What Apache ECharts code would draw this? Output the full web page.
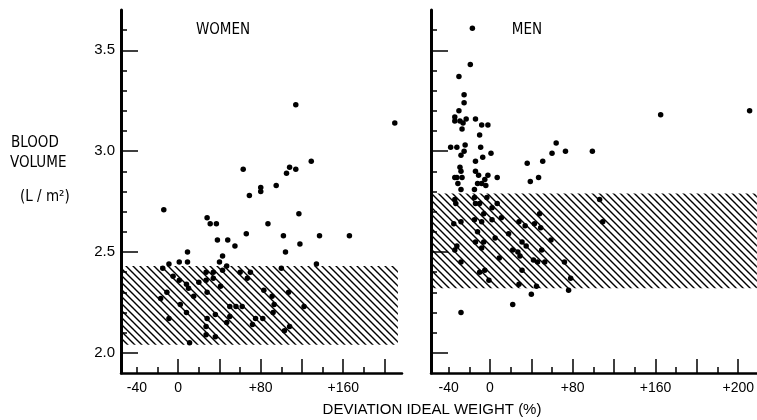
<!DOCTYPE html>
<html>
<head>
<meta charset="utf-8">
<title>Blood volume vs deviation from ideal weight</title>
<script src="https://cdn.jsdelivr.net/npm/echarts@6/dist/echarts.min.js"></script>
<style>
  html, body { margin: 0; padding: 0; background: #fff; }
  #chart { width: 757px; height: 420px; }
</style>
</head>
<body>
<div id="chart"></div>
<script>
// deviation from ideal weight (%), blood volume (L/m2)
var womenPoints = [
  [-14, 2.71], [69, 2.78], [80, 2.80], [28, 2.67], [31, 2.64], [37, 2.64], [87, 2.64],
  [38, 2.56], [48, 2.56], [66, 2.59], [55, 2.53], [9, 2.50], [43, 2.48], [40, 2.45],
  [-9, 2.44], [1, 2.45], [9, 2.45], [-15, 2.42], [47, 2.43], [43, 2.41], [27, 2.40],
  [34, 2.40], [-5, 2.38], [1, 2.36], [27, 2.36], [34, 2.37], [60, 2.40], [70, 2.40],
  [67, 2.37], [8, 2.34], [20, 2.35], [10, 2.32], [41, 2.33], [-11, 2.30], [-17, 2.27],
  [15, 2.28], [28, 2.30], [83, 2.31], [2, 2.24], [50, 2.23], [56, 2.23], [62, 2.23],
  [8, 2.20], [36, 2.19], [50, 2.18], [-9, 2.17], [28, 2.17], [75, 2.17], [82, 2.17],
  [47, 2.15], [72, 2.14], [27, 2.13], [27, 2.09], [36, 2.08], [11, 2.05],
  [114, 3.23], [210, 3.14], [63, 2.91], [80, 2.82], [95, 2.83], [105, 2.89], [108, 2.92],
  [114, 2.91], [129, 2.95], [117, 2.69], [102, 2.58], [137, 2.58], [166, 2.58], [118, 2.54],
  [104, 2.50], [100, 2.42], [134, 2.44], [91, 2.28], [107, 2.30], [93, 2.24], [122, 2.23],
  [92, 2.20], [108, 2.13], [103, 2.11]
];
var menPoints = [
  [-17, 3.61], [-19, 3.43], [-30, 3.37], [-25, 3.28], [-25, 3.24], [-30, 3.20], [-34, 3.17],
  [-34, 3.15], [-29, 3.15], [-26, 3.14], [-23, 3.16], [-27, 3.11], [-14, 3.16], [-8, 3.13],
  [-2, 3.13], [-10, 3.08], [-38, 3.02], [-32, 3.02], [-24, 3.03], [-25, 3.00], [-28, 2.98],
  [-9, 3.02], [1, 2.99], [-7, 2.97], [-14, 2.95], [-29, 2.92], [-28, 2.90], [-34, 2.87],
  [-32, 2.87], [-27, 2.87], [-31, 2.84], [-14, 2.90], [-11, 2.88], [-2, 2.88], [-5, 2.86],
  [7, 2.87], [-12, 2.84], [-8, 2.84], [-4, 2.83], [-15, 2.81], [-28, 2.81],
  [36, 2.94], [39, 2.85], [47, 2.87], [51, 2.95], [60, 2.99], [64, 3.04], [73, 3.00],
  [99, 3.00], [165, 3.18], [251, 3.20],
  [-34, 2.76], [-33, 2.74], [-15, 2.77], [-14, 2.74], [-10, 2.74], [-3, 2.77], [-6, 2.69],
  [2, 2.72], [7, 2.74], [11, 2.67], [-15, 2.66], [-28, 2.65], [-35, 2.64], [-8, 2.65],
  [2, 2.66], [-12, 2.60], [-14, 2.55], [-8, 2.52], [-6, 2.55], [5, 2.57], [18, 2.59],
  [28, 2.65], [34, 2.63], [43, 2.64], [48, 2.69], [49, 2.62], [59, 2.56], [31, 2.55],
  [35, 2.53], [22, 2.51], [27, 2.50], [50, 2.51], [-34, 2.51], [-32, 2.53], [9, 2.47],
  [-28, 2.45], [29, 2.48], [42, 2.46], [46, 2.45], [53, 2.45], [72, 2.45], [31, 2.41],
  [-10, 2.40], [-5, 2.41], [-1, 2.36], [28, 2.34], [45, 2.33], [78, 2.37], [40, 2.29],
  [76, 2.31], [22, 2.24], [-28, 2.20], [106, 2.76], [109, 2.65]
];
// shaded normal ranges [low, high]
var womenBand = [2.04, 2.43];
var menBand = [2.32, 2.79];

var womenTickValues = [-40, 0, 80, 160];
var womenTickLabels = ['-40', '0', '+80', '+160'];
var menTickValues = [-40, 0, 80, 160, 240];
var menTickLabels = ['-40', '0', '+80', '+160', '+200'];
var xMajorTicks = [0, 40, 80, 120, 160, 200, 240];
var xMinorTicks = [-40, -20, 20, 60, 100, 140, 180, 220];
var yMajorTicks = [2.0, 2.5, 3.0, 3.5];
var yMinorTicks = [2.1, 2.2, 2.3, 2.4, 2.6, 2.7, 2.8, 2.9, 3.1, 3.2, 3.3, 3.4, 3.6];

var font = "'Liberation Sans', Arial, sans-serif";
var narrow = "'Liberation Sans Narrow', 'DejaVu Sans Condensed', 'Liberation Sans', sans-serif";

// diagonal hatch for the normal range
function hatch() {
  var s = 7;
  var c = document.createElement('canvas');
  c.width = s; c.height = s;
  var g = c.getContext('2d');
  g.strokeStyle = '#000';
  g.lineWidth = 1.4;
  g.beginPath();
  g.moveTo(-1, -1); g.lineTo(s + 1, s + 1);
  g.moveTo(s - 1, -1); g.lineTo(s + 1, 1);
  g.moveTo(-1, s - 1); g.lineTo(1, s + 1);
  g.stroke();
  return c;
}
var hatchFill = { image: hatch(), repeat: 'repeat' };

function xPair(grid, min, max, values, labels) {
  var base = {
    type: 'value', gridIndex: grid, min: min, max: max, position: 'bottom',
    splitLine: { show: false }
  };
  return [
    Object.assign({}, base, {
      axisLine: { show: true, onZero: false, lineStyle: { color: '#000', width: 2.5 } },
      axisTick: { show: true, inside: true, length: 6, customValues: xMinorTicks, lineStyle: { color: '#000', width: 1.5 } },
      axisLabel: { show: false }
    }),
    Object.assign({}, base, {
      axisLine: { show: false, onZero: false },
      axisTick: { show: true, inside: true, length: 14, customValues: xMajorTicks, lineStyle: { color: '#000', width: 1.5 } },
      axisLabel: {
        show: true, customValues: values, margin: 8, color: '#000', fontSize: 14, fontFamily: font,
        formatter: function (v) { return labels[values.indexOf(v)]; }
      }
    })
  ];
}

function yPair(grid, showLabels) {
  var base = {
    type: 'value', gridIndex: grid, min: 1.9, max: 3.7, position: 'left',
    splitLine: { show: false }
  };
  return [
    Object.assign({}, base, {
      axisLine: { show: true, onZero: false, lineStyle: { color: '#000', width: 3 } },
      axisTick: { show: true, inside: true, length: 6, customValues: yMinorTicks, lineStyle: { color: '#000', width: 1.5 } },
      axisLabel: { show: false }
    }),
    Object.assign({}, base, {
      axisLine: { show: false, onZero: false },
      axisTick: { show: true, inside: true, length: 17, customValues: yMajorTicks, lineStyle: { color: '#000', width: 1.5 } },
      axisLabel: {
        show: showLabels, customValues: yMajorTicks, margin: 6, color: '#000', fontSize: 15, fontFamily: font,
        formatter: function (v) { return v.toFixed(1); }
      }
    })
  ];
}

var wMin = -55.5, wMax = 217, mMin = -57, mMax = 258;

var chart = echarts.init(document.getElementById('chart'));
chart.setOption({
  animation: false,
  backgroundColor: '#fff',
  grid: [
    { left: 121, right: 355, top: 10, bottom: 47 },
    { left: 431, right: 0, top: 10, bottom: 47 }
  ],
  xAxis: xPair(0, wMin, wMax, womenTickValues, womenTickLabels)
    .concat(xPair(1, mMin, mMax, menTickValues, menTickLabels)),
  yAxis: yPair(0, true).concat(yPair(1, false)),
  series: [
    {
      type: 'scatter', xAxisIndex: 0, yAxisIndex: 0, data: [], z: 1,
      markArea: {
        silent: true,
        itemStyle: { color: hatchFill, opacity: 1 },
        data: [[{ coord: [wMin, womenBand[0]] }, { coord: [213, womenBand[1]] }]]
      }
    },
    {
      type: 'scatter', xAxisIndex: 2, yAxisIndex: 2, data: [], z: 1,
      markArea: {
        silent: true,
        itemStyle: { color: hatchFill, opacity: 1 },
        data: [[{ coord: [mMin, menBand[0]] }, { coord: [mMax, menBand[1]] }]]
      }
    },
    {
      name: 'WOMEN', type: 'scatter', xAxisIndex: 0, yAxisIndex: 0, z: 5,
      symbolSize: 5.5, itemStyle: { color: '#000', opacity: 1 },
      data: womenPoints
    },
    {
      name: 'MEN', type: 'scatter', xAxisIndex: 2, yAxisIndex: 2, z: 5,
      symbolSize: 5.5, itemStyle: { color: '#000', opacity: 1 },
      data: menPoints
    }
  ],
  graphic: [
    { type: 'text', x: 223, y: 30, style: { text: 'WOMEN', fill: '#000', font: '15px ' + narrow, align: 'center', verticalAlign: 'middle' } },
    { type: 'text', x: 527, y: 30, style: { text: 'MEN', fill: '#000', font: '15px ' + narrow, align: 'center', verticalAlign: 'middle' } },
    { type: 'text', x: 11, y: 143, style: { text: 'BLOOD', fill: '#000', font: '15px ' + narrow, align: 'left', verticalAlign: 'middle' } },
    { type: 'text', x: 10, y: 163, style: { text: 'VOLUME', fill: '#000', font: '15px ' + narrow, align: 'left', verticalAlign: 'middle' } },
    { type: 'text', x: 20, y: 197, style: { text: '(L / m²)', fill: '#000', font: '15px ' + narrow, align: 'left', verticalAlign: 'middle' } },
    { type: 'text', x: 432, y: 410, style: { text: 'DEVIATION IDEAL WEIGHT (%)', fill: '#000', font: '15px ' + font, align: 'center', verticalAlign: 'middle' } }
  ]
});
</script>
</body>
</html>
